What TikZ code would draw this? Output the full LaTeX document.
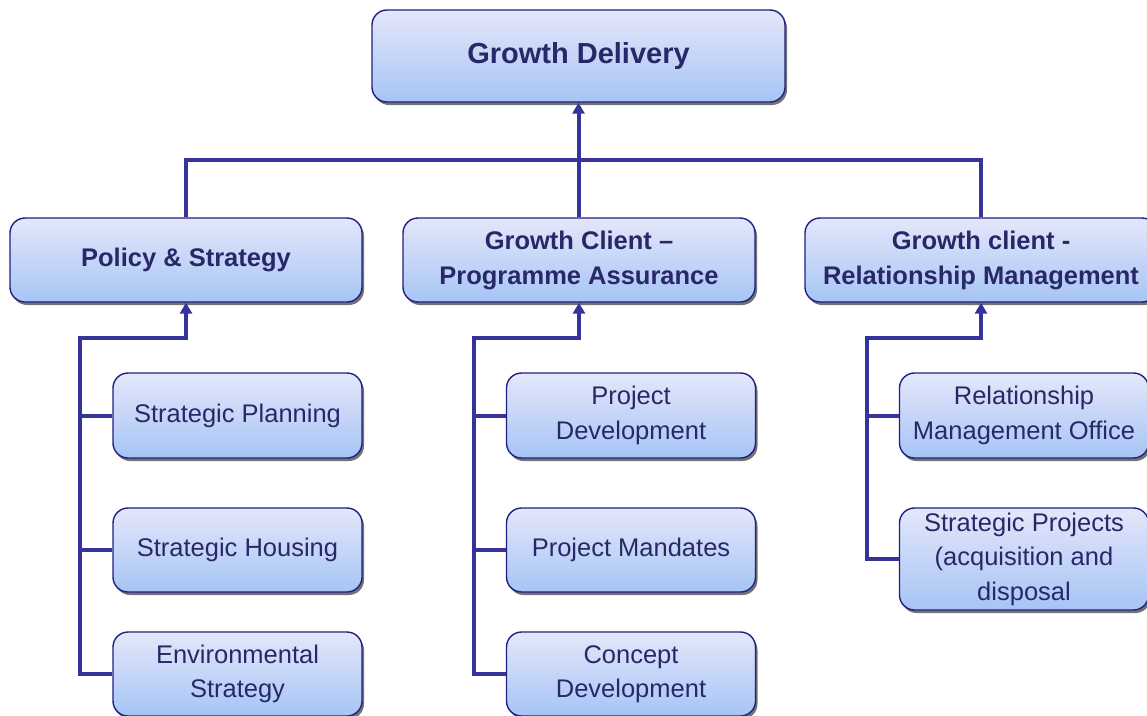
\documentclass[tikz,border=0pt]{standalone}
\usepackage{fontspec}
\setmainfont{Liberation Sans}
\usetikzlibrary{arrows.meta,shadows}
\definecolor{navy}{RGB}{32,32,130}
\definecolor{ink}{RGB}{40,40,105}
\definecolor{wire}{RGB}{51,51,153}
\definecolor{boxtop}{RGB}{228,231,250}
\definecolor{boxbot}{RGB}{166,196,245}
\tikzset{
  box/.style={draw=navy, line width=1.4pt, rounded corners=15pt,
    top color=boxtop, bottom color=boxbot, text=ink, align=center,
    inner sep=0pt,
    drop shadow={shadow xshift=2pt, shadow yshift=-3pt, fill=black!55, opacity=1}},
  headbox/.style={box, font=\fontsize{29}{34}\selectfont\bfseries},
  unitbox/.style={box, font=\fontsize{25.5}{35}\selectfont\bfseries},
  teambox/.style={box, font=\fontsize{25.5}{34.5}\selectfont},
  wireline/.style={draw=wire, line width=4pt},
  arr/.style={wireline, -{Triangle[width=12pt,length=11pt]}},
}
\begin{document}
\begin{tikzpicture}[x=1pt,y=-1pt]
\useasboundingbox (0,0) rectangle (1147,715);

% head of the structure
\node[headbox, minimum width=413pt, minimum height=92pt] (top) at (578.5,56) {Growth Delivery};

% second tier
\node[unitbox, minimum width=352pt, minimum height=84pt] (pol) at (186,260) {Policy \& Strategy};
\node[unitbox, minimum width=352pt, minimum height=84pt] (gca) at (579,260) {Growth Client --\\Programme Assurance};
\node[unitbox, minimum width=352pt, minimum height=84pt] (grm) at (981,260) {Growth client -\\Relationship Management};

% teams under Policy & Strategy
\node[teambox, minimum width=249pt, minimum height=85pt] (sp) at (237.5,415.5) {Strategic Planning};
\node[teambox, minimum width=249pt, minimum height=84pt] (sh) at (237.5,550) {Strategic Housing};
\node[teambox, minimum width=249pt, minimum height=84pt] (es) at (237.5,674) {Environmental\\Strategy};

% teams under Programme Assurance
\node[teambox, minimum width=249pt, minimum height=85pt] (pd) at (631,415.5) {Project\\Development};
\node[teambox, minimum width=249pt, minimum height=84pt] (pm) at (631,550) {Project Mandates};
\node[teambox, minimum width=249pt, minimum height=84pt] (cd) at (631,674) {Concept\\Development};

% teams under Relationship Management
\node[teambox, minimum width=249pt, minimum height=85pt] (rmo) at (1024,415.5) {Relationship\\Management Office};
\node[teambox, minimum width=249pt, minimum height=102pt] (spr) at (1024,559) {Strategic Projects\\(acquisition and\\disposal};

% top-level connectors
\coordinate (bus) at (578.5,160);
\draw[arr] (gca.north -| top.south) -- (top.south);
\draw[wireline] (pol.north) |- (bus) -| (grm.north);

% branch joints
\coordinate (pj) at (80,338);
\coordinate (gj) at (474,338);
\coordinate (rj) at (867,338);

% Policy & Strategy branch
\draw[arr] (es.west) -| (pj) -| (pol.south);
\draw[wireline] (sp.west) -- (sp.west -| pj);
\draw[wireline] (sh.west) -- (sh.west -| pj);

% Programme Assurance branch
\draw[arr] (cd.west) -| (gj) -| (gca.south);
\draw[wireline] (pd.west) -- (pd.west -| gj);
\draw[wireline] (pm.west) -- (pm.west -| gj);

% Relationship Management branch
\draw[arr] (spr.west) -| (rj) -| (grm.south);
\draw[wireline] (rmo.west) -- (rmo.west -| rj);
\end{tikzpicture}
\end{document}
